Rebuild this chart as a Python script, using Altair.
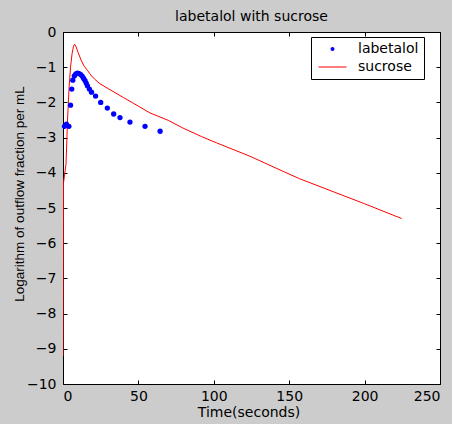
import altair as alt
import pandas as pd

# sucrose (red line)
suc_t = [0, 0.3, 2.0, 3.0, 4.0, 5.0, 6.0, 7.0, 7.7, 8.5, 10, 12, 14, 16.4, 17.5, 19, 21, 24.5,
         30, 40, 46.5, 57.7, 69.8, 79.6, 91.8, 101.9, 124, 146, 157, 180, 200, 224.6]
suc_y = [-9.2, -4.3, -3.75, -2.5, -1.6, -1.0, -0.62, -0.4, -0.35, -0.4, -0.58, -0.8, -0.97, -1.1,
         -1.17, -1.25, -1.34, -1.47, -1.61, -1.86, -2.02, -2.30, -2.51, -2.73, -2.97, -3.15,
         -3.53, -3.96, -4.17, -4.55, -4.88, -5.30]

# labetalol (blue dots)
lab_t = [1.0, 2.3, 3.9, 5.0, 5.8, 6.5, 7.5, 8.5, 9.6, 10.7, 11.8, 12.8, 13.7, 14.6, 15.4, 16.2,
         17.5, 18.9, 21.6, 25.0, 29.4, 33.6, 37.8, 44.4, 54.4, 64.4]
lab_y = [-2.68, -2.62, -2.68, -2.08, -1.62, -1.37, -1.25, -1.19, -1.17, -1.18, -1.21, -1.26,
         -1.32, -1.38, -1.45, -1.53, -1.62, -1.71, -1.82, -2.00, -2.16, -2.33, -2.43, -2.56,
         -2.68, -2.82]

series_names = ["labetalol", "sucrose"]
series_colors = ["#0000ff", "#ff0000"]
series_shapes = ["circle", "M-7,-0.25H7V0.25H-7Z"]
x_ticks = [0, 50, 100, 150, 200, 250]
y_ticks = [-10, -9, -8, -7, -6, -5, -4, -3, -2, -1, 0]

suc = pd.DataFrame({"t": suc_t, "v": suc_y, "series": "sucrose"})
lab = pd.DataFrame({"t": lab_t, "v": lab_y, "series": "labetalol"})

FONT = "DejaVu Sans"

xs = alt.Scale(domain=[0, 250], nice=False, zero=False)
ys = alt.Scale(domain=[-10, 0], nice=False, zero=False)


def make_legend():
    return alt.Legend(
        orient="none", legendX=248, legendY=5, title=None, padding=5,
        strokeColor="black", fillColor="white",
        labelFont=FONT, labelFontSize=14, labelColor="black",
        symbolSize=16, symbolOffset=9.5, labelOffset=18.5, rowPadding=4,
        symbolStrokeWidth=0, symbolOpacity=1,
        labelExpr="datum.label + '  '",
    )


color = alt.Color("series:N", scale=alt.Scale(domain=series_names, range=series_colors),
                  legend=make_legend())
shape = alt.Shape("series:N", scale=alt.Scale(domain=series_names, range=series_shapes),
                  legend=make_legend())

common = dict(tickSize=4, offset=-4, domain=False, grid=False, tickColor="black",
              tickWidth=1, labelFont=FONT, labelFontSize=14, labelColor="black")

line = alt.Chart(suc).mark_line(strokeWidth=1, clip=True).encode(
    x=alt.X("t:Q", scale=xs, axis=alt.Axis(
        orient="bottom", values=x_ticks, title="Time(seconds)", labelPadding=5,
        titleFont=FONT, titleFontSize=14, titleFontWeight="normal", titleColor="black",
        titleX=185.5, titleY=36, titleBaseline="alphabetic", **common)),
    y=alt.Y("v:Q", scale=ys, axis=alt.Axis(
        orient="left", values=y_ticks, title="Logarithm of outflow fraction per mL",
        labelPadding=7, titleFont="Liberation Sans", titleFontSize=13.5,
        titleFontWeight="normal", titleColor="black", titleAngle=270,
        titleX=-48, titleY=161.5, titleBaseline="middle", titleAlign="center", **common)),
    color=color,
)

pts = alt.Chart(lab).mark_point(filled=True, size=28, opacity=1).encode(
    x=alt.X("t:Q", scale=xs, axis=alt.Axis(orient="top", values=x_ticks, labels=False,
                                          title=None, **common)),
    y=alt.Y("v:Q", scale=ys, axis=alt.Axis(orient="right", values=y_ticks, labels=False,
                                          title=None, **common)),
    color=color,
    shape=shape,
)

chart = alt.layer(line, pts).resolve_axis(x="independent", y="independent").properties(
    width=377, height=352,
    title=alt.Title("labetalol with sucrose", font=FONT, fontSize=14, fontWeight="normal",
                    color="black", anchor="middle", offset=1),
    autosize=alt.AutoSizeParams(type="none"),
    padding={"left": 63, "top": 32, "right": 12, "bottom": 40},
    background="#cccccc",
).configure_view(stroke="black", strokeWidth=1, fill="white")

chart.save("out.html", embed_options={"renderer": "svg", "actions": False})
